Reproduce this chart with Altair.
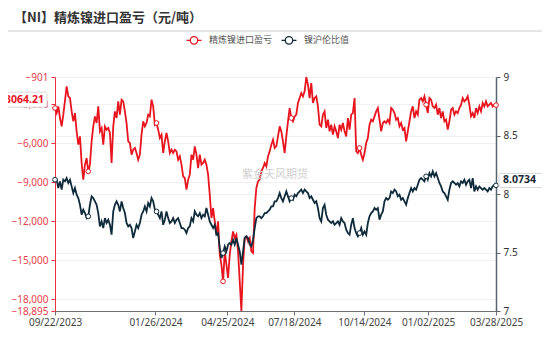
import altair as alt
import pandas as pd

TITLE = "【NI】精炼镍进口盈亏（元/吨）"
SERIES = ["精炼镍进口盈亏", "镍沪伦比值"]
COLORS = ["#e8141e", "#0f2b3b"]
START = (2023, 9, 22)
END = (2025, 3, 28)
X_TICKS = [(2023, 9, 22), (2024, 1, 26), (2024, 4, 25), (2024, 7, 18),
           (2024, 10, 14), (2025, 1, 2), (2025, 3, 28)]
LEFT_TICKS = [-901, -3000, -6000, -9000, -12000, -15000, -18000, -18895]
RIGHT_TICKS = [7, 7.5, 8, 8.5, 9]
WATERMARK = "紫金天风期货"

import_profit = [
    -3287, -3671, -3159, -4056, -4697, -3800, -2723, -1621, -2390, -2518,
    -3543, -4312, -3671, -5081, -6106, -5465, -7516, -8797, -7644, -7131,
    -8157, -7644, -5850, -4697, -3928, -4440, -3159, -5081, -4825, -6106,
    -4697, -4953, -4825, -5209, -7516, -4697, -3543, -4056, -2774, -3800,
    -2646, -2774, -3543, -4440, -5850,
    -5978, -6875, -6491, -6363, -6747, -7260, -6875, -5337, -4312, -4697,
    -4440, -3800, -3928, -2646, -3159, -4568, -4440, -4953, -5594, -5337,
    -6747, -5850, -5209, -5850, -6747, -6491, -6747, -6491, -6619, -7260,
    -7003, -7644, -8541, -8669, -9566, -8797, -8413, -6875, -7260, -6234,
    -6875, -7900, -6875, -7644,
    -7516, -7260, -7644, -8413, -9951, -11745, -10976, -12001, -13026, -12001,
    -14564, -15333, -16615, -14308, -15333, -16358, -14564, -13539, -12770, -13283,
    -13026, -14308, -16615, -18895, -15333, -13283, -13154, -13539, -13283, -14308,
    -14436, -10976, -9438, -8926, -8797, -8157, -7900, -7516, -7772, -7003,
    -6619, -6106, -5722, -6363,
    -6234, -5465, -4697, -5081, -5850, -6747, -5465, -4312, -3287, -4056,
    -4312, -3928, -3800, -2902, -2518, -2134, -2390, -2005, -901, -1493,
    -2518, -1365, -2902, -2518, -2390, -3159, -4568, -4697, -3800, -3543,
    -4825, -4184, -5081, -4568, -5337, -4697, -5081, -5594, -4568, -4953,
    -4440, -5081, -5465, -4056,
    -4953, -3800, -3671, -2518, -6619, -6747, -6363, -6875, -7260, -6747,
    -5978, -5594, -4568, -4184, -4312, -3928, -3543, -3287, -4184, -5081,
    -4440, -4312, -4440, -4184, -4440, -3287, -3415, -3671, -4184, -4056,
    -4697, -4440, -4953, -4825, -5850, -5081, -4312, -3543, -3159, -4056,
    -3543, -3800, -2646, -2518,
    -2774, -2390, -3031, -3671, -2518, -2646, -3159, -3287, -3031, -3800,
    -3287, -4056, -3543, -4312, -4184, -4953, -4312, -3415, -3287, -3800,
    -3543, -3671, -3287, -3031, -2518, -2774, -2646, -2390, -3031, -3928,
    -3671, -4056, -3287, -3671, -3159, -3543, -2902, -3159, -2774, -3159,
    -3031, -2902, -3159, -3031, -3064.21,
]

ratio = [
    8.122, 8.122, 8.051, 8.108, 8.037, 8.122, 8.108, 8.136, 8.094, 8.122,
    8.065, 8.008, 8.051, 7.994, 7.965, 7.908, 7.823, 7.866, 7.837, 7.794,
    7.809, 7.908, 7.980, 7.965, 7.937, 7.908, 7.837, 7.723, 7.766, 7.709,
    7.794, 7.752, 7.780, 7.737, 7.652, 7.851, 7.908, 7.937, 7.908, 7.851,
    7.937, 7.880, 7.837, 7.752, 7.723,
    7.737, 7.709, 7.624, 7.680, 7.737, 7.709, 7.752, 7.823, 7.851, 7.894,
    7.851, 7.923, 7.894, 7.965, 7.937, 7.866, 7.851, 7.823, 7.794, 7.851,
    7.737, 7.780, 7.851, 7.794, 7.752, 7.766, 7.794, 7.752, 7.780, 7.794,
    7.752, 7.709, 7.709, 7.695, 7.666, 7.709, 7.723, 7.794, 7.766, 7.851,
    7.823, 7.809, 7.837, 7.794,
    7.823, 7.809, 7.880, 7.823, 7.766, 7.737, 7.709, 7.737, 7.652, 7.666,
    7.538, 7.453, 7.495, 7.552, 7.510, 7.567, 7.581, 7.567, 7.609, 7.567,
    7.624, 7.567, 7.510, 7.396, 7.510, 7.624, 7.638, 7.624, 7.567, 7.552,
    7.609, 7.709, 7.794, 7.809, 7.809, 7.794, 7.809, 7.837, 7.837, 7.851,
    7.866, 7.894, 7.894, 7.937,
    7.937, 7.965, 8.008, 7.965, 7.937, 7.980, 8.022, 7.980, 7.937, 7.965,
    7.951, 7.994, 7.980, 8.008, 8.022, 8.037, 8.008, 8.037, 8.022, 8.008,
    7.965, 7.980, 7.951, 7.923, 7.937, 7.880, 7.794, 7.766, 7.880, 7.908,
    7.823, 7.780, 7.766, 7.752, 7.766, 7.737, 7.752, 7.766, 7.737, 7.794,
    7.766, 7.752, 7.695, 7.666,
    7.652, 7.737, 7.794, 7.709, 7.666, 7.638, 7.666, 7.709, 7.652, 7.680,
    7.652, 7.752, 7.809, 7.837, 7.851, 7.880, 7.866, 7.880, 7.780, 7.823,
    7.851, 7.937, 7.965, 7.951, 7.965, 8.022, 8.008, 8.037, 8.022, 7.980,
    7.994, 7.951, 7.965, 7.937, 7.908, 7.965, 8.008, 8.051, 8.022, 8.051,
    8.037, 8.079, 8.122, 8.136,
    8.122, 8.108, 8.151, 8.122, 8.179, 8.151, 8.193, 8.151, 8.179, 8.136,
    8.094, 8.065, 8.022, 8.008, 7.980, 7.951, 8.037, 8.094, 8.108, 8.094,
    8.079, 8.094, 8.065, 8.108, 8.094, 8.122, 8.079, 8.108, 8.122, 8.051,
    8.136, 8.022, 8.065, 8.037, 8.065, 8.051, 8.037, 8.051, 8.037, 8.022,
    8.051, 8.037, 8.065, 8.079, 8.0734,
]

MARKER_IDX = [0, 20, 61, 101, 142, 183, 223, 265]

CJK = "Noto Sans CJK SC"
NUM = "Noto Sans"


def dt(t):
    return alt.DateTime(year=t[0], month=t[1], date=t[2])


dates = pd.date_range(pd.Timestamp(*START), pd.Timestamp(*END), periods=len(import_profit))
n = len(dates)
df = pd.DataFrame({
    "date": dates,
    "profit": import_profit,
    "ratio": ratio,
    "marker": [i in MARKER_IDX for i in range(n)],
    "last": [i == n - 1 for i in range(n)],
})

color_scale = alt.Scale(domain=SERIES, range=COLORS)
legend_symbol = ("M-1.5,0L-0.75,0M0.75,0L1.5,0"
                 "M-0.75,0A0.75,0.75,0,1,0,0.75,0A0.75,0.75,0,1,0,-0.75,0")

x_axis = alt.Axis(values=[dt(t) for t in X_TICKS], format="%m/%d/%Y", title=None,
                  grid=False, domainColor="#6e7079", tickColor="#6e7079", tickSize=4,
                  labelColor="#444444", labelFont=NUM, labelFontSize=10, labelPadding=2,
                  labelOverlap=False, labelAlign="center", labelFlush=False)
x_scale = alt.Scale(domain=[dt(START), dt(END)], nice=False)
X = alt.X("date:T", scale=x_scale, axis=x_axis)

left_axis = alt.Axis(orient="left", values=LEFT_TICKS, title=None,
                     labelExpr="format(datum.value, ',')",
                     domainColor="#e8323c", tickColor="#e8323c", tickSize=4,
                     labelColor="#e8404a", labelFont=NUM, labelFontSize=10,
                     labelPadding=3, grid=True, gridColor="#f0f0f0")
right_axis = alt.Axis(orient="right", values=RIGHT_TICKS, title=None,
                      labelExpr="format(datum.value, '~g')",
                      domainColor="#56646e", domainWidth=1.5, tickColor="#56646e",
                      tickSize=4, labelColor="#333333", labelFont=NUM, labelFontSize=10,
                      labelPadding=3, grid=True, gridColor="#f0f0f0")
YL = alt.Y("profit:Q", scale=alt.Scale(domain=[-18895, -901], nice=False, zero=False), axis=left_axis)
YR = alt.Y("ratio:Q", scale=alt.Scale(domain=[7, 9], nice=False, zero=False), axis=right_axis)

base = alt.Chart(df)

# ---- import profit (left axis)
red_data = base.transform_calculate(series=f'"{SERIES[0]}"')
red_line = red_data.mark_line(strokeWidth=1.8).encode(
    x=X, y=YL,
    color=alt.Color("series:N", scale=color_scale,
                    legend=alt.Legend(orient="none", legendX=133, legendY=-43,
                                      direction="horizontal", title=None,
                                      symbolType=legend_symbol, symbolSize=100,
                                      symbolStrokeWidth=1.3, symbolFillColor="white",
                                      labelFont=CJK, labelFontSize=9, labelColor="#555555",
                                      labelOffset=9, columnPadding=5, padding=0)),
)
red_pts = red_data.transform_filter(alt.datum.marker).mark_point(
    shape="circle", filled=True, fill="white", stroke=COLORS[0], strokeWidth=1, size=22, opacity=1
).encode(x=X, y=YL)
red_box = red_data.transform_filter(alt.datum.last).mark_rect(
    fill="white", stroke="#d6d6d6", strokeWidth=1, cornerRadius=2, yOffset=-13, y2Offset=2
).encode(x=alt.value(-62), x2=alt.value(-8), y=YL, y2="profit:Q")
red_txt = red_data.transform_filter(alt.datum.last).mark_text(
    align="right", baseline="middle", fontWeight="bold", fontSize=10.5, font=NUM,
    color=COLORS[0], dy=-5
).encode(x=alt.value(-11), y=YL, text=alt.Text("profit:Q", format=".2f"))
red_layer = alt.layer(red_line, red_pts, red_box, red_txt)

# ---- ratio (right axis)
dark_data = base.transform_calculate(series=f'"{SERIES[1]}"')
dark_line = dark_data.mark_line(strokeWidth=1.8).encode(
    x=X, y=YR,
    color=alt.Color("series:N", scale=color_scale),
)
dark_pts = dark_data.transform_filter(alt.datum.marker).mark_point(
    shape="circle", filled=True, fill="white", stroke=COLORS[1], strokeWidth=1, size=22, opacity=1
).encode(x=X, y=YR)
dark_box = dark_data.transform_filter(alt.datum.last).mark_rect(
    fill="white", stroke="#d6d6d6", strokeWidth=1, cornerRadius=2, yOffset=-12, y2Offset=2
).encode(x=alt.value(444), x2=alt.value(500), y=YR, y2="ratio:Q")
dark_txt = dark_data.transform_filter(alt.datum.last).mark_text(
    align="left", baseline="middle", fontWeight="bold", fontSize=10.5, font=NUM,
    color="#1a2a36", dy=-5
).encode(x=alt.value(448), y=YR, text=alt.Text("ratio:Q", format=".4f"))
dark_layer = alt.layer(dark_line, dark_pts, dark_box, dark_txt)

# ---- decorations
wm = alt.Chart(pd.DataFrame({"t": [WATERMARK]})).mark_text(
    font=CJK, fontSize=11, color="#cfcfcf", align="center", baseline="middle"
).encode(x=alt.value(220), y=alt.value(98), text="t:N")
title_rule = alt.Chart(pd.DataFrame({"t": [TITLE]})).mark_rule(
    color="#cccccc", strokeWidth=1
).encode(x=alt.value(-47), x2=alt.value(487), y=alt.value(-46))
title_txt = alt.Chart(pd.DataFrame({"t": [TITLE]})).mark_text(
    font=CJK, fontSize=13, fontWeight="bold", color="#333333", align="left", baseline="middle"
).encode(x=alt.value(-41), y=alt.value(-59), text="t:N")

chart = alt.layer(red_layer, dark_layer, wm, title_rule, title_txt).resolve_scale(
    y="independent"
).properties(
    width=441, height=234,
    autosize=alt.AutoSizeParams(type="none"),
    padding={"left": 47, "top": 69, "right": 46, "bottom": 30},
).configure_view(stroke=None).configure(background="white")

chart.save("out.html", embed_options={"renderer": "svg", "actions": False})
